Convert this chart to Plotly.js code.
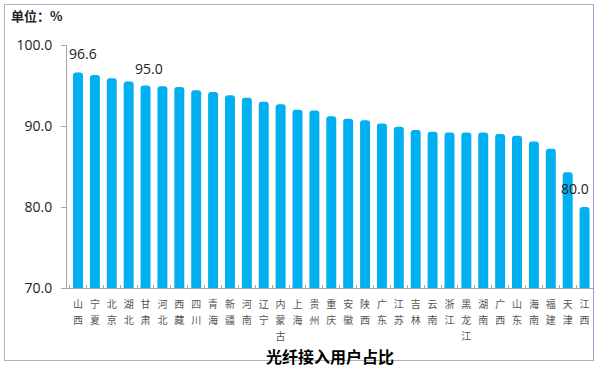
<!DOCTYPE html>
<html>
<head>
<meta charset="utf-8">
<script src="https://cdn.plot.ly/plotly-3.0.1.min.js"></script>
<style>
html,body{margin:0;padding:0;background:#fff;}
#frame{position:absolute;left:4px;top:4px;width:590px;height:357px;border:1px solid #a9b3c8;border-right-color:#8fa2d0;box-sizing:border-box;}
#chart{position:absolute;left:0;top:0;width:600px;height:371px;}
</style>
</head>
<body>
<div id="frame"></div>
<div id="chart"></div>
<script>
const provinces = ["山西","宁夏","北京","湖北","甘肃","河北","西藏","四川","青海","新疆","河南","辽宁","内蒙古","上海","贵州","重庆","安徽","陕西","广东","江苏","吉林","云南","浙江","黑龙江","湖南","广西","山东","海南","福建","天津","江西"];
const fiberShare = [96.6,96.3,95.9,95.5,95.0,94.9,94.8,94.4,94.2,93.8,93.5,93.0,92.7,92.0,91.9,91.2,90.9,90.7,90.3,89.9,89.5,89.3,89.2,89.2,89.2,89.0,88.8,88.1,87.2,84.3,80.0];
const labeledIdx = [0, 4, 30];
const labelShift = [[5,8],[3,6],[-10,7]];
const yTicks = [70, 80, 90, 100];

const tickText = provinces.map(p => p.split("").map(c => '<span style="font-size:10px">' + c + '</span>').join("<br>"));

const annotations = labeledIdx.map((i, k) => ({
  x: provinces[i], y: fiberShare[i], xref: 'x', yref: 'y',
  text: fiberShare[i].toFixed(1), showarrow: false,
  yanchor: 'bottom', xanchor: 'center',
  xshift: labelShift[k][0], yshift: labelShift[k][1],
  font: {family: 'Open Sans, Noto Sans, sans-serif', size: 14, color: '#222'}
}));
annotations.push({
  xref: 'paper', yref: 'paper', x: 0.5, y: -0.28, yanchor: 'middle', xanchor: 'center',
  text: '<b>光纤接入用户占比</b>', showarrow: false,
  font: {family: 'Noto Sans CJK SC', size: 16, color: '#000'}
});
annotations.push({
  xref: 'paper', yref: 'paper', x: -0.110, y: 1.123, yanchor: 'middle', xanchor: 'left',
  text: '<b>单位：%</b>', showarrow: false,
  font: {family: 'Noto Sans CJK SC', size: 13, color: '#222'}
});

const trace = {
  type: 'bar', x: provinces, y: fiberShare,
  marker: {color: '#00B0F0', cornerradius: 3},
  hoverinfo: 'x+y'
};

const layout = {
  width: 600, height: 371,
  margin: {l: 67, r: 7, t: 45, b: 83},
  paper_bgcolor: 'rgba(0,0,0,0)', plot_bgcolor: 'rgba(0,0,0,0)',
  showlegend: false,
  bargap: 0.41,
  xaxis: {
    type: 'category', tickmode: 'array', tickvals: provinces, ticktext: tickText,
    showline: true, linecolor: '#a6a6a6', linewidth: 1,
    ticks: 'inside', tickson: 'boundaries', ticklen: 3, tickcolor: '#a6a6a6',
    tickangle: 0, showgrid: false, zeroline: false, ticklabelstandoff: 5,
    tickfont: {family: 'Noto Sans CJK SC', size: 12, color: '#555'}
  },
  yaxis: {
    range: [70, 100], tickvals: yTicks, tickformat: '.1f',
    showline: true, linecolor: '#a6a6a6', linewidth: 1,
    ticks: 'outside', ticklen: 5, tickcolor: '#a6a6a6',
    showgrid: false, zeroline: false, ticklabelstandoff: 6,
    tickfont: {family: 'Open Sans, Noto Sans, sans-serif', size: 14, color: '#222'}
  },
  annotations: annotations
};

Plotly.newPlot('chart', [trace], layout, {staticPlot: true, displayModeBar: false});
</script>
</body>
</html>
